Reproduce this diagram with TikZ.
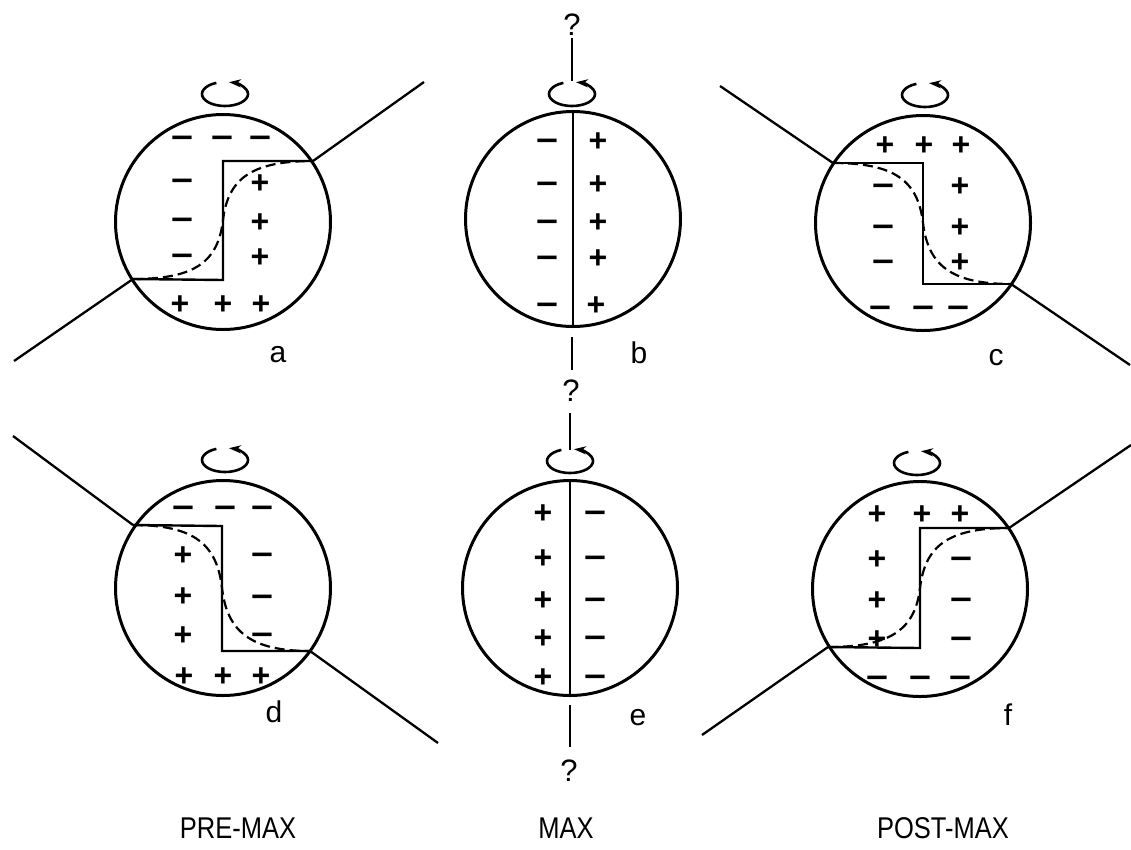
\documentclass[tikz,border=0pt]{standalone}
\usepackage{fontspec}
\setmainfont{Liberation Sans}
\usetikzlibrary{arrows.meta}
\newcommand\mn{\scalebox{1.2}[1]{−}}
\newcommand\pl{+}
\begin{document}
\begin{tikzpicture}[x=1pt,y=-1pt,
  star/.style={circle,draw,line width=3pt,minimum size=215pt,inner sep=0pt},
  sg/.style={font=\fontsize{32}{32}\selectfont\bfseries,inner sep=0pt,anchor=base,yshift=-11pt},
  lbl/.style={font=\fontsize{30}{30}\selectfont,inner sep=0pt,anchor=base},
  captxt/.style={font=\fontsize{30}{30}\selectfont,inner sep=0pt,anchor=base},
  qm/.style={font=\fontsize{31}{31}\selectfont,inner sep=0pt},
  wire/.style={line width=2.3pt},
  sline/.style={line width=2.4pt},
  dline/.style={line width=2.2pt,dash pattern=on 10pt off 5pt},
  axisline/.style={line width=1.8pt},
  rot/.style={line width=2.6pt,-{Stealth[length=12pt,width=8pt]}},
]
\useasboundingbox (0,0) rectangle (1131,849);
\newcommand\rotarrow[1]{\draw[rot] ([shift={(112:23pt and 12pt)}]#1) arc[start angle=112,end angle=440,x radius=23pt,y radius=12pt];}

% ---------- circles ----------
\node[star] (A) at (223,222) {};
\node[star] (B) at (573,219) {};
\node[star] (C) at (923,223) {};
\node[star] (D) at (223,588) {};
\node[star] (E) at (570,588) {};
\node[star] (F) at (920,589) {};

% ---------- rotation arrows ----------
\coordinate (ra) at (225,94);
\coordinate (rb) at (572,94);
\coordinate (rc) at (925,95);
\coordinate (rd) at (225,460);
\coordinate (re) at (570,461);
\coordinate (rf) at (917,463);
\rotarrow{ra}\rotarrow{rb}\rotarrow{rc}\rotarrow{rd}\rotarrow{re}\rotarrow{rf}

% ---------- panel a ----------
\coordinate (aL) at (133,279); \coordinate (aR) at (313,161);
\coordinate (aUR) at (424,82); \coordinate (aLL) at (14,361);
\draw[wire] (aR) -- (aUR);
\draw[wire] (aL) -- (aLL);
\draw[sline] (aL) -- (223,280) -- (223,161) -- (aR);
\draw[dline] (aL) .. controls (195,279) and (218,262) .. (223,220) .. controls (228,179) and (251,161) .. (aR);
\foreach \x in {182,222,260} \node[sg] at (\x,137) {\mn};
\foreach \y in {180,219,255} \node[sg] at (182,\y) {\mn};
\foreach \y in {182,221,256} \node[sg] at (260,\y) {\pl};
\foreach \x in {180,223,261} \node[sg] at (\x,303) {\pl};
\node[lbl] (la) at (278,362) {a};

% ---------- panel b ----------
\draw[sline] (B.north) -- (B.south);
\foreach \y in {140,183,221,257,304} \node[sg] at (547,\y) {\mn};
\foreach \y in {140,183,221,257} \node[sg] at (598,\y) {\pl};
\node[sg] at (596,304) {\pl};
\node[lbl] (lb) at (639,363) {b};
\node[qm] (q1) at (572,25) {?};
\coordinate (b0) at (572,38);
\coordinate (b1) at (572,81);
\draw[axisline] (b0) -- (b1);
\coordinate (b2) at (572,337); \coordinate (b3) at (572,370);
\draw[axisline] (b2) -- (b3);
\node[qm] (q2) at (571,391) {?};
\coordinate (e1) at (570,413); \coordinate (e2) at (570,450);
\draw[axisline] (e1) -- (e2);

% ---------- panel c ----------
\coordinate (cL) at (833,163); \coordinate (cR) at (1011,284);
\coordinate (cUL) at (720,86); \coordinate (cLR) at (1130,365);
\draw[wire] (cL) -- (cUL);
\draw[wire] (cR) -- (cLR);
\draw[sline] (cL) -- (923,163) -- (923,284) -- (cR);
\draw[dline] (cL) .. controls (895,163) and (918,181) .. (923,223) .. controls (928,265) and (951,284) .. (cR);
\foreach \x in {885,924,961} \node[sg] at (\x,144) {\pl};
\foreach \y in {185,226,261} \node[sg] at (883,\y) {\mn};
\foreach \y in {185,226,261} \node[sg] at (960,\y) {\pl};
\foreach \x in {880,923,958} \node[sg] at (\x,307) {\mn};
\node[lbl] (lc) at (996,365) {c};

% ---------- panel d ----------
\coordinate (dL) at (133,525); \coordinate (dR) at (310,651);
\coordinate (dUL) at (13,436); \coordinate (dLR) at (438,743);
\draw[wire] (dL) -- (dUL);
\draw[wire] (dR) -- (dLR);
\draw[sline] (dL) -- (222,526) -- (222,651) -- (dR);
\draw[dline] (dL) .. controls (195,525) and (217,545) .. (222,588) .. controls (227,631) and (250,651) .. (dR);
\foreach \x in {183,225,262} \node[sg] at (\x,507) {\mn};
\foreach \y in {554,595,634} \node[sg] at (183,\y) {\pl};
\foreach \y in {554,596,634} \node[sg] at (262,\y) {\mn};
\foreach \x in {184,223,261} \node[sg] at (\x,675) {\pl};
\node[lbl] (ld) at (274,722) {d};

% ---------- panel e ----------
\draw[sline] (E.north) -- (E.south);
\foreach \y in {512,557,599,637,676} \node[sg] at (543,\y) {\pl};
\foreach \y in {512,557,599,637,676} \node[sg] at (595,\y) {\mn};
\node[lbl] (le) at (638,725) {e};
\coordinate (e3) at (570,705); \coordinate (e4) at (570,747);
\draw[axisline] (e3) -- (e4);
\node[qm] (q3) at (569,771) {?};

% ---------- panel f ----------
\coordinate (fL) at (828,647); \coordinate (fR) at (1009,528);
\coordinate (fUR) at (1131,445); \coordinate (fLL) at (702,735);
\draw[wire] (fR) -- (fUR);
\draw[wire] (fL) -- (fLL);
\draw[sline] (fL) -- (920,648) -- (920,528) -- (fR);
\draw[dline] (fL) .. controls (890,647) and (915,630) .. (920,588) .. controls (925,546) and (948,528) .. (fR);
\foreach \x in {877,922,960} \node[sg] at (\x,513) {\pl};
\foreach \y in {558,599,638} \node[sg] at (877,\y) {\pl};
\foreach \y in {558,599,638} \node[sg] at (961,\y) {\mn};
\foreach \x in {877,920,960} \node[sg] at (\x,677) {\mn};
\node[lbl] (lf) at (1008,725) {f};

% ---------- captions ----------
\node[captxt] (pre) at (238,838) {\scalebox{0.85}[1]{PRE-MAX}};
\node[captxt] (max) at (566,838) {\scalebox{0.85}[1]{MAX}};
\node[captxt] (post) at (943,838) {\scalebox{0.85}[1]{POST-MAX}};
\end{tikzpicture}
\end{document}
